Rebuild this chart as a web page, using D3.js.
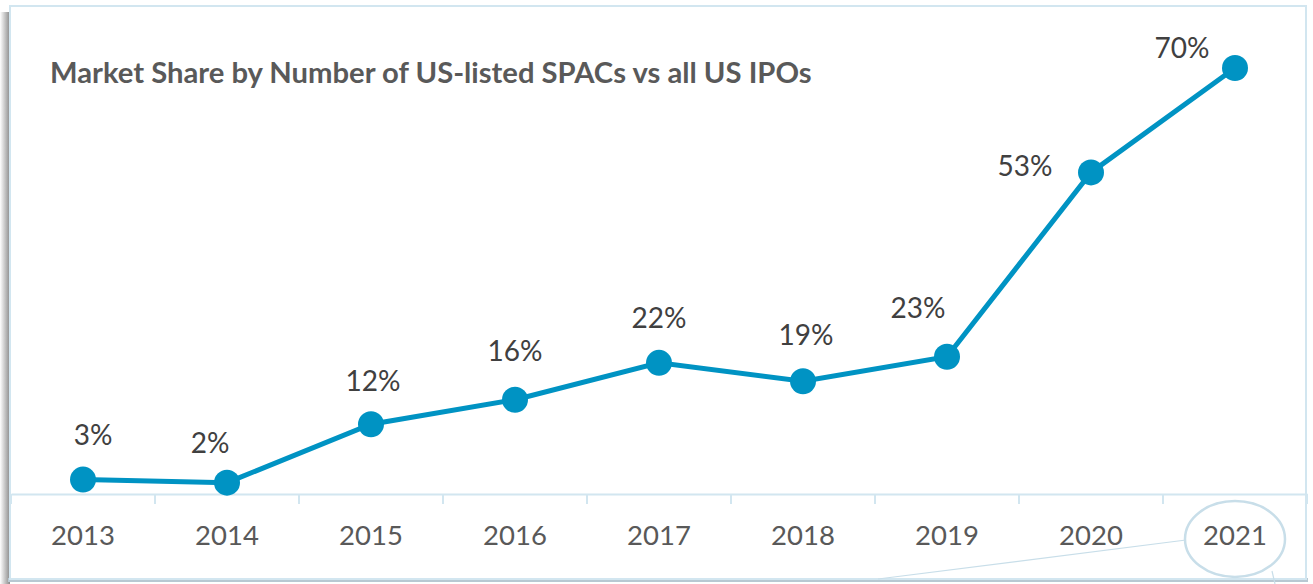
<!DOCTYPE html>
<html><head><meta charset="utf-8">
<script src="https://cdn.jsdelivr.net/npm/d3@7"></script>
<style>body{margin:0;background:#fff;}svg{display:block;}</style>
</head><body>
<svg id="c" width="1313" height="584"></svg>
<script>
const years = ["2013","2014","2015","2016","2017","2018","2019","2020","2021"];
const share = [3,2.5,12,16,22,19,23,53,70];
const labels = ["3%","2%","12%","16%","22%","19%","23%","53%","70%"];
// label placement relative to point (layout)
const labelOffsets = [[10,-46],[-17,-41],[2,-44],[0,-50],[0,-46],[3,-47],[-29,-50],[-66,-7],[-53,-21]];

const svg = d3.select("#c");
const defs = svg.append("defs");
const g1 = defs.append("linearGradient").attr("id","sh").attr("x1",0).attr("x2",1);
g1.append("stop").attr("offset","0%").attr("stop-color","#fff");
g1.append("stop").attr("offset","100%").attr("stop-color","#8a8a8a");
// shadow left
svg.append("rect").attr("x",0).attr("y",12).attr("width",10).attr("height",572).attr("fill","url(#sh)");
svg.append("rect").attr("x",8).attr("y",578).attr("width",1300).attr("height",4).attr("fill","#b8c8d2");
// frame
svg.append("rect").attr("x",10).attr("y",6).attr("width",1296).attr("height",573)
  .attr("fill","#fff").attr("stroke","#d2e6f0").attr("stroke-width",2);

const x = d3.scaleBand().domain(years).range([11,1307]);
const y = d3.scaleLinear().domain([0,70]).range([498,68]);
const cx = d => x(d)+x.bandwidth()/2;

// x axis
const ax = svg.append("g").attr("transform","translate(0,494)")
  .call(d3.axisBottom(x).tickSize(0).tickPadding(31));
ax.select(".domain").attr("stroke","#d2e6f0").attr("stroke-width",2);
ax.selectAll("text").attr("font-family","Lato, 'Open Sans', sans-serif").attr("font-size",27.5).attr("fill","#595959");
// tick marks between categories
svg.append("g").selectAll("line").data(d3.range(years.length+1)).join("line")
  .attr("x1",i=>11+i*x.bandwidth()).attr("x2",i=>11+i*x.bandwidth())
  .attr("y1",494).attr("y2",504).attr("stroke","#d2e6f0").attr("stroke-width",2);

const pts = years.map((yr,i)=>({yr,v:share[i],lab:labels[i],off:labelOffsets[i]}));
svg.append("path").datum(pts)
  .attr("d",d3.line().x(d=>cx(d.yr)).y(d=>y(d.v)))
  .attr("fill","none").attr("stroke","#0093c3").attr("stroke-width",5);
svg.append("g").selectAll("circle").data(pts).join("circle")
  .attr("cx",d=>cx(d.yr)).attr("cy",d=>y(d.v)).attr("r",13).attr("fill","#0093c3");
svg.append("g").selectAll("text").data(pts).join("text")
  .attr("x",d=>cx(d.yr)+d.off[0]).attr("y",d=>y(d.v)+d.off[1])
  .attr("text-anchor","middle").attr("dominant-baseline","central")
  .attr("font-family","Lato, 'Open Sans', sans-serif").attr("font-size",28).attr("fill","#404040")
  .text(d=>d.lab);

// title
const t = svg.append("text").attr("x",50).attr("y",83)
  .attr("font-family","Lato, 'Open Sans', sans-serif").attr("font-weight","bold")
  .attr("font-size",24).attr("fill","#595959")
  .text("Market Share by Number of US-listed SPACs vs all US IPOs");
const w = t.node().getComputedTextLength();
t.attr("font-size",24*762/w);

// annotation ellipse
svg.append("line").attr("x1",878).attr("y1",579).attr("x2",1186).attr("y2",540)
  .attr("stroke","#c8dee9").attr("stroke-width",1.2);
svg.append("line").attr("x1",1272).attr("y1",571).attr("x2",1275).attr("y2",584)
  .attr("stroke","#c8dee9").attr("stroke-width",1.2);
svg.append("ellipse").attr("cx",1235).attr("cy",539).attr("rx",50).attr("ry",38)
  .attr("fill","none").attr("stroke","#c8dee9").attr("stroke-width",2.5);
</script>
</body></html>
